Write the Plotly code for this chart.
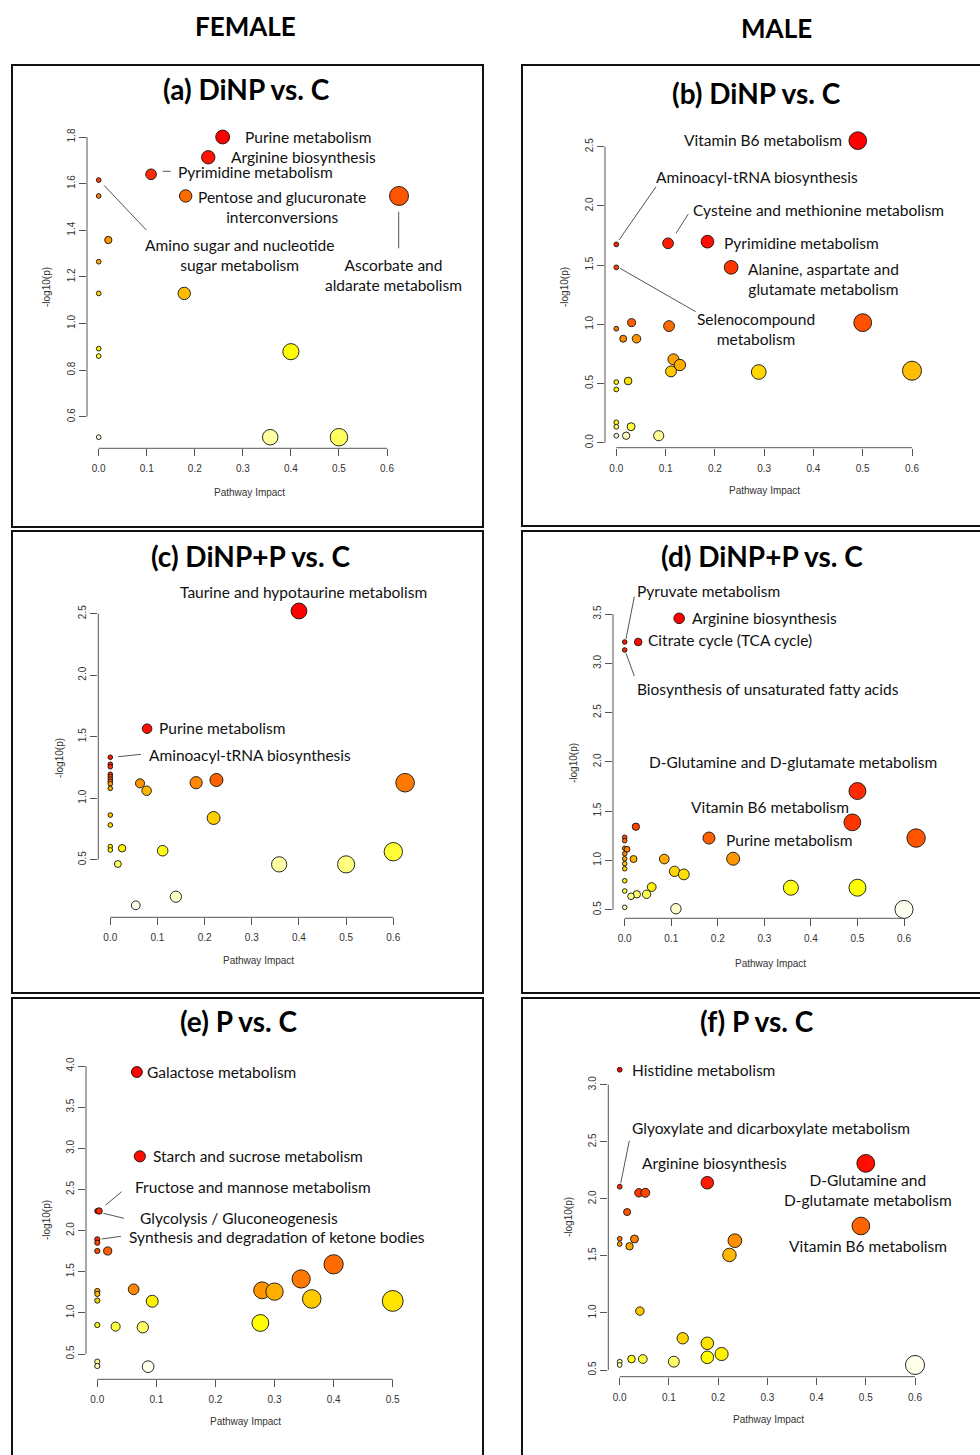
import colorsys
import plotly.graph_objects as go

W, H = 980, 1455

# ---------------- data (Pathway Impact, -log10(p)) ----------------
A_IMPACT = [0.258, 0.228, 0.109, 0.0, 0.625, 0.181, 0.0, 0.020, 0.0, 0.178, 0.0, 0.0, 0.400, 0.0, 0.500, 0.357, 0.0]
A_LOGP = [1.800, 1.713, 1.640, 1.615, 1.547, 1.547, 1.547, 1.358, 1.265, 1.129, 1.129, 0.892, 0.879, 0.860, 0.512, 0.512, 0.512]

B_IMPACT = [0.490, 0.185, 0.105, 0.0, 0.233, 0.0, 0.500, 0.031, 0.107, 0.0, 0.014, 0.041, 0.116, 0.129,
            0.600, 0.111, 0.289, 0.024, 0.0, 0.0, 0.0, 0.030, 0.0, 0.086, 0.020, 0.0]
B_LOGP = [2.551, 1.698, 1.684, 1.675, 1.481, 1.481, 1.014, 1.014, 0.985, 0.963, 0.878, 0.878, 0.704, 0.656,
          0.608, 0.602, 0.597, 0.521, 0.512, 0.450, 0.172, 0.135, 0.135, 0.059, 0.059, 0.059]

C_IMPACT = [0.400, 0.078, 0.0, 0.0, 0.0, 0.0, 0.0, 0.0, 0.225, 0.0, 0.625, 0.182, 0.063, 0.0, 0.0, 0.077,
            0.0, 0.219, 0.0, 0.0, 0.025, 0.0, 0.111, 0.600, 0.016, 0.500, 0.358, 0.139, 0.054]
C_LOGP = [2.522, 1.565, 1.333, 1.276, 1.256, 1.194, 1.175, 1.156, 1.148, 1.137, 1.126, 1.126, 1.121, 1.118,
          1.080, 1.061, 0.863, 0.839, 0.782, 0.606, 0.593, 0.579, 0.573, 0.565, 0.465, 0.462, 0.462, 0.199, 0.129]

D_IMPACT = [0.117, 0.029, 0.0, 0.0, 0.500, 0.489, 0.024, 0.626, 0.181, 0.0, 0.0, 0.0, 0.005, 0.0, 0.233,
            0.0, 0.085, 0.019, 0.0, 0.0, 0.107, 0.127, 0.0, 0.058, 0.500, 0.357, 0.0, 0.047, 0.026, 0.0135,
            0.0, 0.110, 0.600]
D_LOGP = [3.456, 3.216, 3.216, 3.135, 1.704, 1.386, 1.342, 1.227, 1.227, 1.234, 1.200, 1.123, 1.113, 1.068,
          1.017, 1.017, 1.014, 1.014, 0.967, 0.916, 0.889, 0.858, 0.794, 0.730, 0.723, 0.723, 0.690, 0.656,
          0.656, 0.636, 0.524, 0.510, 0.503]

E_IMPACT = [0.067, 0.072, 0.0, 0.003, 0.0, 0.0, 0.0, 0.0176, 0.400, 0.345, 0.0615, 0.279, 0.0, 0.300, 0.0,
            0.363, 0.0, 0.500, 0.093, 0.276, 0.0, 0.031, 0.077, 0.0, 0.0, 0.086]
E_LOGP = [3.927, 2.902, 2.238, 2.238, 1.894, 1.853, 1.752, 1.752, 1.590, 1.412, 1.286, 1.274, 1.266, 1.258,
          1.230, 1.169, 1.149, 1.145, 1.141, 0.877, 0.852, 0.833, 0.825, 0.407, 0.354, 0.346]

F_IMPACT = [0.0, 0.500, 0.178, 0.0, 0.039, 0.052, 0.015, 0.490, 0.0, 0.030, 0.234, 0.0, 0.020, 0.223, 0.041,
            0.128, 0.178, 0.207, 0.178, 0.024, 0.047, 0.110, 0.0, 0.0, 0.600]
F_LOGP = [3.131, 2.311, 2.141, 2.106, 2.053, 2.053, 1.884, 1.762, 1.650, 1.648, 1.633, 1.604, 1.584, 1.508,
          1.016, 0.778, 0.734, 0.640, 0.611, 0.596, 0.596, 0.573, 0.573, 0.544, 0.544]

# tick labels
X_TICKS_06 = [0.0, 0.1, 0.2, 0.3, 0.4, 0.5, 0.6]
X_TICKS_05 = [0.0, 0.1, 0.2, 0.3, 0.4, 0.5]
A_YTICKS = [0.6, 0.8, 1.0, 1.2, 1.4, 1.6, 1.8]
B_YTICKS = [0.0, 0.5, 1.0, 1.5, 2.0, 2.5]
C_YTICKS = [0.5, 1.0, 1.5, 2.0, 2.5]
D_YTICKS = [0.5, 1.0, 1.5, 2.0, 2.5, 3.0, 3.5]
E_YTICKS = [0.5, 1.0, 1.5, 2.0, 2.5, 3.0, 3.5, 4.0]
F_YTICKS = [0.5, 1.0, 1.5, 2.0, 2.5, 3.0]

TITLES = ["(a) DiNP vs. C", "(b) DiNP vs. C", "(c) DiNP+P vs. C",
          "(d) DiNP+P vs. C", "(e) P vs. C", "(f) P vs. C"]

# labelled pathways: text, anchor pixel x, pixel y, xanchor
A_LABELS = [("Purine metabolism", 244.3, 137, "left"),
            ("Arginine biosynthesis", 230, 156.8, "left"),
            ("Pyrimidine metabolism", 177.3, 172.2, "left"),
            ("Pentose and glucuronate<br>interconversions", 281.7, 207.5, "center"),
            ("Amino sugar and nucleotide<br>sugar metabolism", 239.7, 254.5, "center"),
            ("Ascorbate and<br>aldarate metabolism", 393.3, 274.5, "center")]
B_LABELS = [("Vitamin B6 metabolism", 842.7, 140.3, "right"),
            ("Aminoacyl-tRNA biosynthesis", 655, 177.3, "left"),
            ("Cysteine and methionine metabolism", 691.7, 210, "left"),
            ("Pyrimidine metabolism", 722.7, 243, "left"),
            ("Alanine, aspartate and<br>glutamate metabolism", 823.3, 278.8, "center"),
            ("Selenocompound<br>metabolism", 756, 329.3, "center")]
C_LABELS = [("Taurine and hypotaurine metabolism", 303.3, 591.7, "center"),
            ("Purine metabolism", 158.3, 728, "left"),
            ("Aminoacyl-tRNA biosynthesis", 148.3, 755, "left")]
D_LABELS = [("Pyruvate metabolism", 636.3, 590.7, "left"),
            ("Arginine biosynthesis", 690.7, 618, "left"),
            ("Citrate cycle (TCA cycle)", 647.3, 640.3, "left"),
            ("Biosynthesis of unsaturated fatty acids", 636.3, 689.3, "left"),
            ("D-Glutamine and D-glutamate metabolism", 647.7, 762.3, "left"),
            ("Vitamin B6 metabolism", 690, 806.7, "left"),
            ("Purine metabolism", 724.7, 840.3, "left")]
E_LABELS = [("Galactose metabolism", 146.3, 1072, "left"),
            ("Starch and sucrose metabolism", 152, 1156.3, "left"),
            ("Fructose and mannose metabolism", 134, 1187.3, "left"),
            ("Glycolysis / Gluconeogenesis", 139, 1218.3, "left"),
            ("Synthesis and degradation of ketone bodies", 128.3, 1236.7, "left")]
F_LABELS = [("Histidine metabolism", 631, 1070, "left"),
            ("Glyoxylate and dicarboxylate metabolism", 631, 1128, "left"),
            ("Arginine biosynthesis", 640.7, 1163.3, "left"),
            ("D-Glutamine and<br>D-glutamate metabolism", 868.3, 1190.3, "center"),
            ("Vitamin B6 metabolism", 867.7, 1246.3, "center")]

A_LEADERS = [(162.7, 171.3, 170.7, 171.3), (104, 185.3, 146.3, 230), (398.7, 211.7, 398.7, 248.3)]
B_LEADERS = [(619, 240, 656, 186.7), (676, 233.3, 688.3, 214), (620, 268.3, 695.7, 311.7)]
C_LEADERS = [(118.3, 756.7, 141, 754.3)]
D_LEADERS = [(626, 639, 634.3, 596.7), (626, 653.3, 634.3, 676)]
E_LEADERS = [(105.7, 1205, 121.7, 1191.7), (103.3, 1213.3, 124, 1218.3), (101.7, 1239, 121, 1236.3)]
F_LEADERS = [(620.7, 1183.3, 629.3, 1140.7)]

# ---------------- layout geometry (pixels) ----------------
PANELS = [
    dict(impact=A_IMPACT, logp=A_LOGP, xt=X_TICKS_06, yt=A_YTICKS, labels=A_LABELS, leaders=A_LEADERS,
         xcal=(98.7, 387.0), ycal=(416.7, 137.0), ax=87, ay=448.3, box=(12, 65, 483, 527),
         tpos=(246, 89), xl=(249, 492), yl=(47, 287)),
    dict(impact=B_IMPACT, logp=B_LOGP, xt=X_TICKS_06, yt=B_YTICKS, labels=B_LABELS, leaders=B_LEADERS,
         xcal=(616.3, 912.0), ycal=(442.7, 146.7), ax=605, ay=447.7, box=(522, 65, 995, 526),
         tpos=(756, 93), xl=(764, 490), yl=(565, 287)),
    dict(impact=C_IMPACT, logp=C_LOGP, xt=X_TICKS_06, yt=C_YTICKS, labels=C_LABELS, leaders=C_LEADERS,
         xcal=(110.3, 393.3), ycal=(859.7, 613.7), ax=98.3, ay=917.3, box=(12, 531, 483, 993),
         tpos=(250, 556), xl=(258, 960), yl=(59, 758)),
    dict(impact=D_IMPACT, logp=D_LOGP, xt=X_TICKS_06, yt=D_YTICKS, labels=D_LABELS, leaders=D_LEADERS,
         xcal=(624.7, 904.0), ycal=(909.7, 614.0), ax=613, ay=918.3, box=(522, 531, 995, 993),
         tpos=(762, 556), xl=(770, 963), yl=(573, 763)),
    dict(impact=E_IMPACT, logp=E_LOGP, xt=X_TICKS_05, yt=E_YTICKS, labels=E_LABELS, leaders=E_LEADERS,
         xcal=(97.3, 392.7), ycal=(1354.0, 1066.0), ax=86, ay=1379.3, box=(12, 998, 483, 1470),
         tpos=(239, 1021), xl=(245, 1421.5), yl=(46, 1220)),
    dict(impact=F_IMPACT, logp=F_LOGP, xt=X_TICKS_06, yt=F_YTICKS, labels=F_LABELS, leaders=F_LEADERS,
         xcal=(619.7, 915.0), ycal=(1370.0, 1084.7), ax=608.3, ay=1376.7, box=(522, 998, 995, 1470),
         tpos=(757, 1021), xl=(768, 1419), yl=(568, 1217)),
]


def heat_colors(n):
    """R's heat.colors(n)."""
    j = n // 4
    i = n - j
    cols = []
    for k in range(i):
        h = (1 / 6) * k / (i - 1) if i > 1 else 0.0
        cols.append(colorsys.hsv_to_rgb(h, 1, 1))
    if j > 0:
        s0, s1 = 1 - 1 / (2 * j), 1 / (2 * j)
        for k in range(j):
            s = s0 + (s1 - s0) * k / (j - 1) if j > 1 else s0
            cols.append(colorsys.hsv_to_rgb(1 / 6, s, 1))
    return ["rgb(%d,%d,%d)" % (round(r * 255), round(g * 255), round(b * 255)) for r, g, b in cols]


def px2paper(x, y):
    return x / W, 1 - y / H


fig = go.Figure()
shapes, annotations = [], []
LABEL_FONT = dict(family="Lato, Open Sans, sans-serif", size=15.5, color="#111")
TICK_FONT = dict(family="Liberation Sans, Arial, sans-serif", size=10, color="#333")

for n, p in enumerate(PANELS, start=1):
    xs, ys = p["impact"], p["logp"]
    xt, yt = p["xt"], p["yt"]
    xp0, xp1 = p["xcal"]
    yp0, yp1 = p["ycal"]
    xv0, xv1 = xt[0], xt[-1]
    yv0, yv1 = yt[0], yt[-1]
    fx = lambda px: xv0 + (px - xp0) * (xv1 - xv0) / (xp1 - xp0)
    fy = lambda py: yv0 + (py - yp0) * (yv1 - yv0) / (yp1 - yp0)
    bx0, by0, bx1, by1 = p["box"]
    dom_r = min(bx1 - 6, W - 4)
    dom_t = by0 + 45
    xdom = [p["ax"] / W, dom_r / W]
    ydom = [1 - p["ay"] / H, 1 - dom_t / H]
    xrange_ = [fx(p["ax"]), fx(dom_r)]
    yrange_ = [fy(p["ay"]), fy(dom_t)]
    px_per_x = (xp1 - xp0) / (xv1 - xv0)

    # MetaboAnalyst ordering / colours / radii
    order = sorted(range(len(ys)), key=lambda k: -ys[k])
    xo = [xs[k] for k in order]
    yo = [ys[k] for k in order]
    cols = heat_colors(len(yo))
    sq = [abs(v) ** 0.5 for v in xo]
    mn, mx = min(sq), max(sq)
    maxR = (mx - mn) / 40
    minR = (mx - mn) / 160
    radii = [minR + (maxR - minR) * (s - mn) / (mx - mn) for s in sq]
    sizes = [2 * r * px_per_x for r in radii]

    xa = "x" if n == 1 else "x%d" % n
    ya = "y" if n == 1 else "y%d" % n
    fig.add_trace(go.Scatter(
        x=xo, y=yo, mode="markers", xaxis=xa, yaxis=ya, cliponaxis=False, showlegend=False,
        marker=dict(size=sizes, color=cols, line=dict(color="#111", width=0.9), opacity=1),
        hoverinfo="x+y"))

    axis_common = dict(showgrid=False, zeroline=False, showline=False, ticks="outside", ticklen=7,
                       tickwidth=1, tickcolor="#555", tickfont=TICK_FONT, tickformat=".1f")
    fig.update_layout(**{
        ("xaxis" if n == 1 else "xaxis%d" % n): dict(axis_common, domain=xdom, range=xrange_, tickvals=xt,
                                                     anchor=ya, ticklabelstandoff=4),
        ("yaxis" if n == 1 else "yaxis%d" % n): dict(axis_common, domain=ydom, range=yrange_, tickvals=yt,
                                                     anchor=xa, tickangle=-90),
    })
    # R-style axis lines spanning first to last tick
    shapes.append(dict(type="line", xref=xa, yref=ya + " domain", x0=xt[0], x1=xt[-1], y0=0, y1=0,
                       line=dict(color="#555", width=1)))
    shapes.append(dict(type="line", xref=xa + " domain", yref=ya, x0=0, x1=0, y0=yt[0], y1=yt[-1],
                       line=dict(color="#555", width=1)))
    # panel box
    x0, y0 = px2paper(bx0, by0)
    x1, y1 = px2paper(bx1, by1)
    shapes.append(dict(type="rect", xref="paper", yref="paper", x0=x0, y0=y0, x1=x1, y1=y1,
                       line=dict(color="#111", width=2)))
    # leader lines
    for (lx0, ly0, lx1, ly1) in p["leaders"]:
        a0 = px2paper(lx0, ly0)
        a1 = px2paper(lx1, ly1)
        shapes.append(dict(type="line", xref="paper", yref="paper", x0=a0[0], y0=a0[1], x1=a1[0], y1=a1[1],
                           line=dict(color="#555", width=1)))
    # pathway labels
    for (txt, lx, ly, anc) in p["labels"]:
        ax_, ay_ = px2paper(lx, ly)
        annotations.append(dict(text=txt, x=ax_, y=ay_, xref="paper", yref="paper", xanchor=anc,
                                yanchor="middle", showarrow=False, font=LABEL_FONT, align="center",
                                borderpad=0))
    # title
    tx, ty = px2paper(*p["tpos"])
    annotations.append(dict(text="<b>%s</b>" % TITLES[n - 1], x=tx, y=ty, xref="paper", yref="paper",
                            xanchor="center", yanchor="middle", showarrow=False,
                            font=dict(family="Lato, sans-serif", size=28, color="#000")))
    # axis titles
    lx, ly = px2paper(*p["xl"])
    annotations.append(dict(text="Pathway Impact", x=lx, y=ly, xref="paper", yref="paper", xanchor="center",
                            yanchor="middle", showarrow=False, font=TICK_FONT))
    lx, ly = px2paper(*p["yl"])
    annotations.append(dict(text="-log10(p)", x=lx, y=ly, xref="paper", yref="paper", xanchor="center",
                            yanchor="middle", showarrow=False, font=TICK_FONT, textangle=-90))

# column headers
for txt, hx, hy in [("FEMALE", 245.5, 26), ("MALE", 776, 28)]:
    X, Y = px2paper(hx, hy)
    annotations.append(dict(text="<b>%s</b>" % txt, x=X, y=Y, xref="paper", yref="paper", xanchor="center",
                            yanchor="middle", showarrow=False,
                            font=dict(family="Lato, sans-serif", size=26, color="#000")))

fig.update_layout(width=W, height=H, margin=dict(l=0, r=0, t=0, b=0), paper_bgcolor="white",
                  plot_bgcolor="white", shapes=shapes, annotations=annotations, showlegend=False)

fig.write_html("out.html", config={"displayModeBar": False},
               post_script="document.body.style.margin='0';")
